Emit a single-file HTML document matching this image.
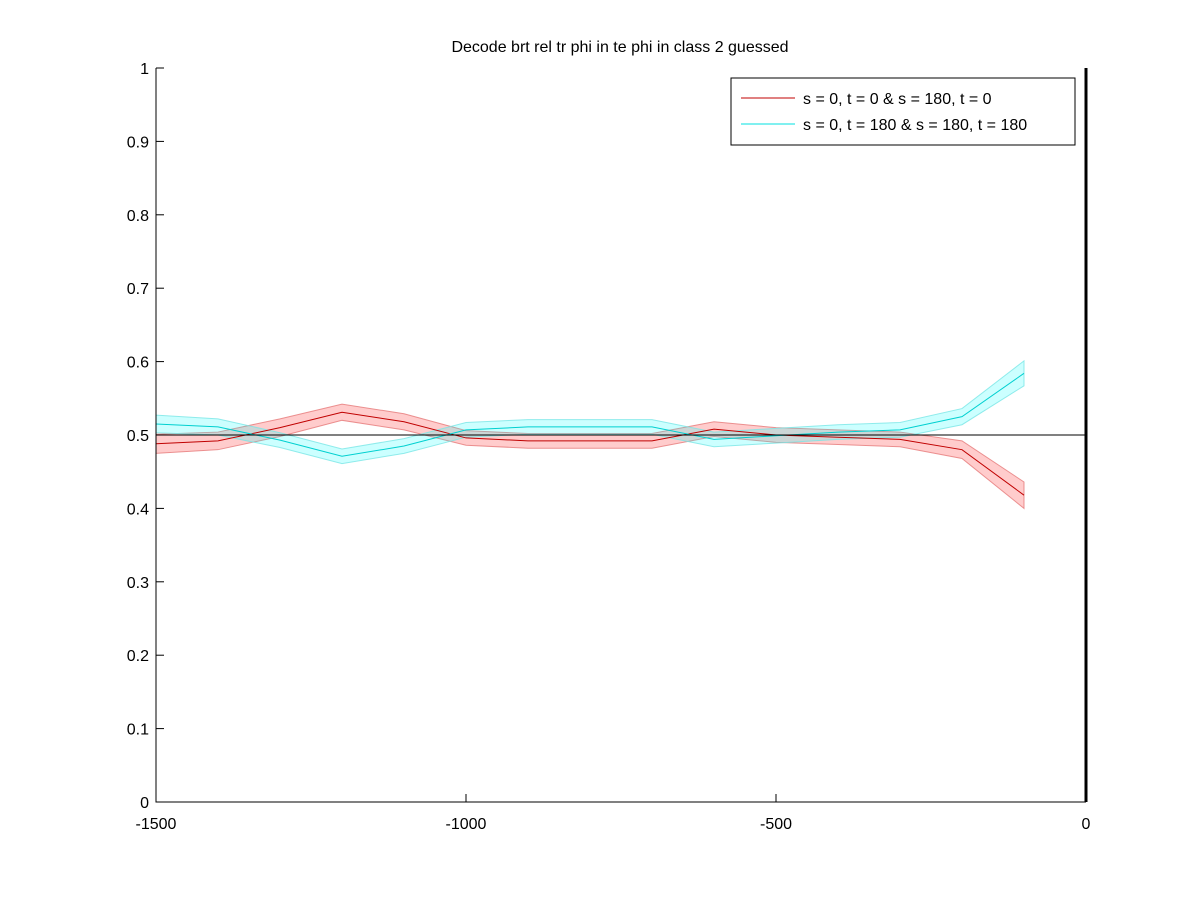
<!DOCTYPE html>
<html><head><meta charset="utf-8"><style>
body{margin:0;background:#fff;}
text{font-family:"Liberation Sans",sans-serif;font-size:16px;fill:#000;}
</style></head><body>
<svg id="chart" width="1200" height="900" xmlns="http://www.w3.org/2000/svg">
<rect width="1200" height="900" fill="#fff"/>
<text x="620" y="52" text-anchor="middle">Decode brt rel tr phi in te phi in  class 2 guessed</text>
<g id="plot"></g>
</svg>
<script>
const xVals=[-1500,-1400,-1300,-1200,-1100,-1000,-900,-800,-700,-600,-500,-400,-300,-200,-100];
const redMean=[0.488,0.492,0.51,0.531,0.518,0.496,0.492,0.492,0.492,0.508,0.5,0.497,0.494,0.48,0.418];
const redErr=[0.013,0.012,0.012,0.011,0.011,0.01,0.01,0.01,0.01,0.01,0.01,0.01,0.01,0.012,0.018];
const cyanMean=[0.515,0.511,0.493,0.471,0.485,0.507,0.511,0.511,0.511,0.494,0.499,0.504,0.507,0.525,0.584];
const cyanErr=[0.012,0.011,0.01,0.01,0.01,0.01,0.01,0.01,0.01,0.01,0.01,0.01,0.01,0.011,0.017];
const xTicks=[-1500,-1000,-500,0];
const yTicks=[0,0.1,0.2,0.3,0.4,0.5,0.6,0.7,0.8,0.9,1];
const NS="http://www.w3.org/2000/svg";
const L=156,R=1086,T=68,B=802;
const sx=v=>L+(v+1500)/1500*(R-L);
const sy=v=>B-v*(B-T);
const g=document.getElementById('plot');
function mk(t,a){const e=document.createElementNS(NS,t);for(const k in a)e.setAttribute(k,a[k]);g.appendChild(e);return e;}
function band(m,e,fill,stroke,name){
  let up=xVals.map((x,i)=>sx(x)+','+sy(m[i]+e[i]));
  let dn=xVals.map((x,i)=>sx(x)+','+sy(m[i]-e[i])).reverse();
  const p=mk('polygon',{points:up.concat(dn).join(' '),fill:fill,stroke:stroke,'stroke-width':1});
  
  
}
function line(m,c,name){
  const p=mk('polyline',{points:xVals.map((x,i)=>sx(x)+','+sy(m[i])).join(' '),fill:'none',stroke:c,'stroke-width':1});
  
  
}
band(redMean,redErr,'rgba(255,0,0,0.2)','rgba(230,120,120,0.8)','red-series');
band(cyanMean,cyanErr,'rgba(0,255,255,0.2)','rgba(120,230,230,0.8)','cyan-series');
line(redMean,'#c00000','red-series');
line(cyanMean,'#00d0d0','cyan-series');
const ref=mk('line',{x1:L,x2:R,y1:sy(0.5),y2:sy(0.5),stroke:'#000','stroke-width':1});


const ax=mk('path',{d:`M${L},${T}V${B}H${R}`,fill:'none',stroke:'#000','stroke-width':1});


const zl=mk('line',{x1:R,x2:R,y1:T,y2:B,stroke:'#000','stroke-width':3});


xTicks.forEach(v=>{
  const x=sx(v);
  mk('line',{x1:x,x2:x,y1:B,y2:B-8,stroke:'#000'});
  const t=mk('text',{x:x,y:B+27,'text-anchor':'middle'});t.textContent=v;
  
  
});
yTicks.forEach(v=>{
  const y=sy(v);
  mk('line',{x1:L,x2:L+8,y1:y,y2:y,stroke:'#000'});
  const t=mk('text',{x:L-7,y:y+6,'text-anchor':'end'});t.textContent=v;
  
  
});
const lg=mk('rect',{x:731,y:78,width:344,height:67,fill:'#fff',stroke:'#000'});


mk('line',{x1:741,x2:795,y1:98,y2:98,stroke:'#c00000'});
mk('line',{x1:741,x2:795,y1:124,y2:124,stroke:'#00e0e0'});
const l1=mk('text',{x:803,y:104});l1.textContent='s = 0, t = 0 & s = 180, t = 0';


const l2=mk('text',{x:803,y:130});l2.textContent='s = 0, t = 180 & s = 180, t = 180';


</script>
</body></html>
